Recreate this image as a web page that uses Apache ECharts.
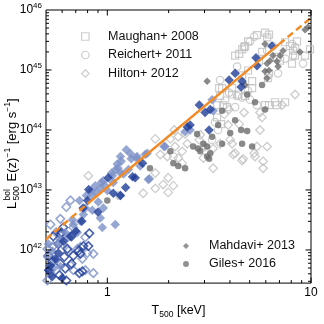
<!DOCTYPE html>
<html>
<head>
<meta charset="utf-8">
<script src="https://cdn.jsdelivr.net/npm/echarts@6/dist/echarts.min.js"></script>
<style>
html,body{margin:0;padding:0;background:#fff}
#chart{width:324px;height:324px}
</style>
</head>
<body>
<div id="chart"></div>
<script>
// T500 [keV], L [erg/s]
var maughan = [[5.43,3.8e45],[4.91,3.0e45],[4.75,2.5e45],[5.95,4.2e45],[6.09,3.5e45],[4.59,2.2e45],[4.24,1.74e45],
  [7.46,2.9e45],[7.89,2.5e45],[8.54,3.0e45],[8.16,2.1e45],[8.35,1.74e45],[7.05,1.43e45],[6.81,1.66e45],[4.91,9.8e44],
  [3.66,5.0e44],[3.58,3.7e44],[4.10,3.9e44],[4.39,3.9e44],[4.75,3.7e44],[5.14,6.5e44],[6.15,7.3e44],[3.70,2.6e44],
  [3.87,2.4e44],[3.46,2.6e44],[6.66,2.9e44],[7.46,2.9e44],[5.95,2.6e44],[8.07,1.28e45],[6.22,3.9e45],[4.69,2.4e45],
  [4.44,1.86e45],[5.56,1.43e45],[5.75,2.0e45],[3.54,5.0e44],[4.10,5.0e44],[4.59,8.1e44],[5.14,5.0e44],[6.22,2.6e44],
  [6.81,2.6e44],[9.35,1.74e45],[9.89,2.2e45],[6.22,8.8e44],[3.46,1.62e44],[3.62,1.25e44]];
var reichert = [[4.34,1.14e45],[6.09,2.1e45],[6.51,2.5e45],[8.07,2.7e45],[8.35,2.4e45],[9.14,1.28e45],[8.16,1.74e45],
  [6.89,8.8e44],[7.46,1.55e45],[4.91,4.5e44],[4.34,3.7e44],[3.79,3.1e44],[5.43,2.6e44],[4.24,2.4e44],[5.02,3.2e44],
  [5.02,3.0e45],[5.26,3.6e45],[3.58,6.8e44],[3.96,4.2e44],[4.59,3.5e44],[3.38,1.35e44],[3.50,1.0e44],[3.27,6.9e43],
  [2.11,3.6e43]];
var hilton = [[1.72,7.1e43],[1.82,3.9e43],[2.23,7.7e43],[2.41,8.6e43],[2.15,5.3e43],[2.33,4.4e43],[1.97,3.6e43],
  [2.23,3.4e43],[2.33,2.8e43],[1.72,1.92e43],[1.99,1.6e43],[2.11,1.18e43],[1.88,1.23e43],[1.72,1.06e43],[3.31,2.3e43],
  [2.96,3.4e43],[3.31,4.9e43],[3.58,5.9e43],[3.02,5.3e43],[2.86,8.3e43],[1.99,9.1e42],[1.50,8.8e42],[5.62,1.95e44],
  [5.75,1.62e44],[7.21,2.6e44],[8.35,3.9e44],[5.62,1.0e44],[4.44,1.25e44],[4.69,1.95e44],[3.96,2.2e44],[3.75,1.82e44],
  [2.04,7.1e43],[2.47,5.9e43],[2.83,6.9e43],[4.10,5.9e43],[5.43,5.3e43],[4.24,4.1e43],[5.26,4.1e43],[2.13,1.0e44],
  [6.09,5.3e43],[5.82,3.0e43],[5.82,2.3e43],[5.31,3.6e43],[4.64,3.3e43],[4.15,3.9e43],[4.01,6.9e43],[3.92,1.21e44],
  [4.59,3.1e43],[0.807,1.72e43],[1.13,8.1e42]];
var mahdavi = [[9.35,4.7e45],[9.67,5.2e45],[5.95,2.7e45],[7.29,2.1e45],[7.05,1.74e45],[6.51,1.74e45],[6.29,1.43e45],
  [6.09,1.28e45],[6.81,1.38e45],[6.89,1.14e45],[5.95,9.5e44],[6.09,7.3e44],[4.75,5.6e44],[8.83,2.0e45],[3.09,6.5e44],
  [6.22,9.8e44]];
var giles = [[2.76,8.6e43],[2.64,5.3e43],[2.79,4.9e43],[3.09,5.3e43],[2.96,5.9e43],[2.86,4.4e43],[2.04,4.4e43],
  [2.11,2.8e43],[2.23,2.5e43],[2.41,2.3e43],[1.62,2.3e43],[3.09,3.6e43],[3.2,4.1e43],[3.27,7.7e43],[3.66,5.9e43],
  [3.66,2.1e44],[4.24,1.45e44],[4.54,1.0e44],[4.86,9.6e43],[4.01,8.9e43],[4.59,5.9e43],[5.14,5.3e43],[3.50,1.21e44],
  [5.75,5.6e44],[4.86,3.9e44],[3.16,3.3e43],[1.0,6.7e42],[5.31,2.9e44],[5.95,2.2e44]];
var blueFilled = [[5.37,1.6e45],[5.43,1.18e45],[4.24,8.8e44],[3.96,6.8e44],[4.59,6.5e44],[4.54,5.2e44],[6.44,2.5e45],
  [2.83,2.6e44],[3.02,1.95e44],[3.2,2.2e44],[2.55,1.21e44],[2.47,1.12e44],[3.16,1.0e44],[1.49,2.8e43],[1.37,1.6e43],
  [1.01,1.6e43],[1.33,1.66e43],[1.23,1.1e43],[0.81,1.02e43],[1.07,8.8e42],[0.80,6.7e42],[0.90,4.3e42],[0.76,5.0e42],
  [0.75,3.0e42],[0.66,1.69e42],[0.61,1.4e42],[0.575,8.9e41],[0.526,5.5e41],[0.514,4.6e41],[0.556,7.1e41],[0.60,3.4e41],
  [0.537,3.6e41],[0.70,2.04e42],[1.16,8.1e42]];
var lightFilled = [[1.24,4.7e43],[1.31,3.3e43],[1.17,3.0e43],[1.39,3.4e43],[1.13,2.3e43],[1.27,2.2e43],[1.05,1.92e43],
  [1.2,1.85e43],[0.935,1.33e43],[0.883,9.1e42],[0.835,9.8e42],[0.73,6.7e42],[1.16,1.92e43],[1.16,3.6e43],[1.40,3.6e43],
  [1.12,2.7e43],[1.45,2.5e43],[1.06,1.72e43],[1.57,4.1e43],[1.535,3.9e43],[1.92,5.3e43],[3.31,2.1e44],[2.55,1.0e44],
  [1.61,1.54e43],[3.27,3.2e44],[2.41,9.3e43],[1.9,5.3e43],[0.956,1.43e43],[1.07,1.33e43],[0.873,1.18e43],[0.924,1.06e43],
  [1.0,9.8e42],[0.844,8.1e42],[0.903,6.3e42],[0.956,5.0e42],[0.924,3.4e42],[0.945,2.37e42],[1.094,2.65e42],[0.763,3.9e42],
  [0.738,3.0e42],[0.681,2.65e42],[0.713,1.96e42],[0.644,1.63e42],[0.569,1.25e42],[0.537,9.6e41],[0.508,7.7e41],
  [0.556,6.6e41],[0.543,4.9e41],[0.588,5.3e41],[1.158,8.1e42],[1.59,1.49e43],[0.789,8.1e42],[0.622,1.96e42],
  [0.588,1.51e42],[0.514,1.25e42],[0.78,5.0e42],[0.844,4.6e42],[0.674,3.2e42],[1.3,4.0e43],[1.1,2.2e43],[0.97,1.2e43]];
var lightHollow = [[0.659,6.7e42],[0.588,3.3e42],[0.543,1.16e42],[0.602,1.25e42],[0.644,9.6e41],[0.713,1.04e42],
  [0.798,8.9e41],[0.754,7.1e41],[0.78,4.6e41],[0.659,5.5e41],[0.508,1.04e42],[0.526,2.65e42],[0.681,2.37e42],
  [0.78,1.63e42],[0.738,1.12e42],[0.854,8.6e41],[0.854,4.1e41],[0.681,4.6e41],[0.526,4.1e41],[0.508,3.1e41],
  [0.629,5.2e42],[0.56,1.96e42]];
var blueHollow = [[0.608,2.37e42],[0.588,1.82e42],[0.575,1.25e42],[0.637,1.04e42],[0.681,8.0e41],[0.763,1.16e42],
  [0.807,1.16e42],[0.738,8.6e41],[0.588,5.9e41],[0.622,4.9e41],[0.754,4.4e41],[0.537,6.4e41],[0.514,8.0e41],
  [0.543,1.69e42],[0.816,1.89e42],[0.721,9.6e41],[0.615,7.7e41],[0.667,5.9e41],[0.52,4.6e41],[0.582,3.8e41],
  [0.729,4.1e41],[0.629,3.1e41],[0.595,1.96e42],[0.667,1.69e42]];
// fit line
var fitLow = [[0.5,1.5e42],[0.8,5.9e42]];
var fitMid = [[0.8,5.9e42],[6.97,2.7e45]];
var fitHigh = [[6.97,2.7e45],[10,7.4e45]];
// ticks
var xMajor = [1, 10];
var xMinor = [0.6,0.7,0.8,0.9,2,3,4,5,6,7,8,9];
var yMajor = [1e42,1e43,1e44,1e45];
var yMinor = [3e41,4e41,5e41,6e41,7e41,8e41,9e41,2e42,3e42,4e42,5e42,6e42,7e42,8e42,9e42,
  2e43,3e43,4e43,5e43,6e43,7e43,8e43,9e43,2e44,3e44,4e44,5e44,6e44,7e44,8e44,9e44,
  2e45,3e45,4e45,5e45,6e45,7e45,8e45,9e45];

var FONT = 'Liberation Sans';
var DARKBLUE = '#1f3d97', LIGHTBLUE = '#7d91c8', LGRAY = '#c0c0c0', DGRAY = '#6c6c6c', ORANGE = '#f28b25';

function isPow10(v) {
  var l = Math.log10(v);
  return Math.abs(l - Math.round(l)) < 1e-6;
}

function tickData(vals, len) {
  return vals.map(function(v) { return [v, len]; });
}

var hollowLegend = {color: 'rgba(255,255,255,0)', borderColor: LGRAY, borderWidth: 1.2};

var chart = echarts.init(document.getElementById('chart'));

var option = {
  animation: false,
  textStyle: {fontFamily: FONT},
  grid: {left: 46, top: 10, right: 13, bottom: 34, show: true, borderColor: '#000', borderWidth: 1, backgroundColor: 'transparent'},
  xAxis: {
    type: 'log', logBase: 10, min: 0.5, max: 10,
    axisLine: {show: false}, axisTick: {show: false}, splitLine: {show: false},
    axisLabel: {
      margin: 4, color: '#000', fontSize: 12, fontFamily: FONT,
      formatter: function(v) { return isPow10(v) ? String(Math.round(v)) : ''; }
    },
    name: '{m|T}{s|500}{m| [keV]}', nameLocation: 'middle', nameGap: 12,
    nameTextStyle: {
      rich: {
        m: {fontSize: 12.5, fontFamily: FONT, color: '#000', lineHeight: 17},
        s: {fontSize: 8.5, fontFamily: FONT, color: '#000', lineHeight: 10, verticalAlign: 'bottom'}
      }
    }
  },
  yAxis: {
    type: 'log', logBase: 10, min: 2.8e41, max: 1e46,
    axisLine: {show: false}, axisTick: {show: false}, splitLine: {show: false},
    axisLabel: {
      margin: 4, color: '#000',
      formatter: function(v) {
        if (!isPow10(v)) return '';
        return '{b|10}{e|' + Math.round(Math.log10(v)) + '}';
      },
      rich: {
        b: {fontSize: 12, fontFamily: FONT, color: '#000', lineHeight: 16},
        e: {fontSize: 8, fontFamily: FONT, color: '#000', lineHeight: 10, verticalAlign: 'top'}
      }
    }
  },
  legend: [{
    orient: 'vertical', left: 76, top: 24.5, itemWidth: 7.5, itemHeight: 7.5, itemGap: 4.5,
    textStyle: {fontSize: 12.5, fontFamily: FONT, color: '#111', lineHeight: 14, padding: [0, 0, 0, 14]},
    data: [
      {name: 'Maughan+ 2008', icon: 'rect', itemStyle: hollowLegend},
      {name: 'Reichert+ 2011', icon: 'circle', itemStyle: hollowLegend},
      {name: 'Hilton+ 2012', icon: 'diamond', itemStyle: hollowLegend}
    ], selectedMode: false
  }, {
    orient: 'vertical', left: 178, top: 234, itemWidth: 6, itemHeight: 6, itemGap: 4,
    textStyle: {fontSize: 12.5, fontFamily: FONT, color: '#111', lineHeight: 14, padding: [0, 0, 0, 15]},
    data: [
      {name: 'Mahdavi+ 2013', icon: 'diamond', itemStyle: {color: '#777'}},
      {name: 'Giles+ 2016', icon: 'circle', itemStyle: {color: '#777'}}
    ], selectedMode: false
  }],
  graphic: [{
    type: 'group', x: 12, y: 209, rotation: Math.PI / 2, silent: true,
    children: [
      {type: 'text', x: 0, y: 0, style: {text: 'L', font: '13px ' + FONT, fill: '#000', verticalAlign: 'middle'}},
      {type: 'text', x: 8.5, y: -4.5, style: {text: 'bol', font: '8.5px ' + FONT, fill: '#000', verticalAlign: 'middle'}},
      {type: 'text', x: 8.5, y: 4.5, style: {text: '500', font: '8.5px ' + FONT, fill: '#000', verticalAlign: 'middle'}},
      {type: 'text', x: 24, y: 0, style: {
        text: '{m| E(z)}{s|\u22121}{m| [erg s}{s|\u22121}{m|]}', verticalAlign: 'middle',
        rich: {
          m: {font: '13px ' + FONT, fill: '#000', lineHeight: 17},
          s: {font: '8.5px ' + FONT, fill: '#000', lineHeight: 10, verticalAlign: 'top'}
        }
      }}
    ]
  }],
  series: [
    {name: 'Maughan+ 2008', type: 'scatter', data: maughan, symbol: 'rect', symbolSize: 7, z: 2,
      itemStyle: {color: 'rgba(255,255,255,0)', borderColor: LGRAY, borderWidth: 1.2}},
    {name: 'Reichert+ 2011', type: 'scatter', data: reichert, symbol: 'circle', symbolSize: 7.5, z: 2,
      itemStyle: {color: 'rgba(255,255,255,0)', borderColor: LGRAY, borderWidth: 1.2}},
    {name: 'Hilton+ 2012', type: 'scatter', data: hilton, symbol: 'diamond', symbolSize: 8.5, z: 2,
      itemStyle: {color: 'rgba(255,255,255,0)', borderColor: LGRAY, borderWidth: 1.3}},
    {name: 'Mahdavi+ 2013', type: 'scatter', data: mahdavi, symbol: 'diamond', symbolSize: 7.5, z: 3,
      itemStyle: {color: DGRAY}},
    {name: 'Giles+ 2016', type: 'scatter', data: giles, symbol: 'circle', symbolSize: 6.5, z: 3,
      itemStyle: {color: DGRAY}},
    {name: 'lightHollow', type: 'scatter', data: lightHollow, symbol: 'diamond', symbolSize: 8.5, z: 4,
      itemStyle: {color: 'rgba(255,255,255,0)', borderColor: LIGHTBLUE, borderWidth: 1.6}},
    {name: 'blueHollow', type: 'scatter', data: blueHollow, symbol: 'diamond', symbolSize: 8.5, z: 4,
      itemStyle: {color: 'rgba(255,255,255,0)', borderColor: DARKBLUE, borderWidth: 1.6}},
    {name: 'lightFilled', type: 'scatter', data: lightFilled, symbol: 'diamond', symbolSize: 9.5, z: 5,
      itemStyle: {color: LIGHTBLUE}},
    {name: 'blueFilled', type: 'scatter', data: blueFilled, symbol: 'diamond', symbolSize: 9.5, z: 6,
      itemStyle: {color: DARKBLUE}},
    {name: 'fitLow', type: 'line', data: fitLow, showSymbol: false, z: 7,
      lineStyle: {color: ORANGE, width: 2.5, type: [7, 4]}},
    {name: 'fitMid', type: 'line', data: fitMid, showSymbol: false, z: 7,
      lineStyle: {color: ORANGE, width: 2.5}},
    {name: 'fitHigh', type: 'line', data: fitHigh, showSymbol: false, z: 7,
      lineStyle: {color: ORANGE, width: 2.5, type: [7, 4]}},
    // tick marks on all four sides, pointing in
    {type: 'custom', silent: true, z: 10, data: tickData(xMajor, 5.5).concat(tickData(xMinor, 3)),
      renderItem: function(params, api) {
        var cs = params.coordSys;
        var x = api.coord([api.value(0), 1e43])[0];
        var len = api.value(1);
        var st = {stroke: '#000', lineWidth: 1};
        return {type: 'group', children: [
          {type: 'line', shape: {x1: x, y1: cs.y + cs.height, x2: x, y2: cs.y + cs.height - len}, style: st},
          {type: 'line', shape: {x1: x, y1: cs.y, x2: x, y2: cs.y + len}, style: st}
        ]};
      }},
    {type: 'custom', silent: true, z: 10, data: tickData(yMajor, 5.5).concat(tickData(yMinor, 3)),
      encode: {x: 1, y: 0},
      renderItem: function(params, api) {
        var cs = params.coordSys;
        var y = api.coord([1, api.value(0)])[1];
        var len = api.value(1);
        var st = {stroke: '#000', lineWidth: 1};
        return {type: 'group', children: [
          {type: 'line', shape: {x1: cs.x, y1: y, x2: cs.x + len, y2: y}, style: st},
          {type: 'line', shape: {x1: cs.x + cs.width, y1: y, x2: cs.x + cs.width - len, y2: y}, style: st}
        ]};
      }}
  ]
};
chart.setOption(option);
</script>
</body>
</html>
